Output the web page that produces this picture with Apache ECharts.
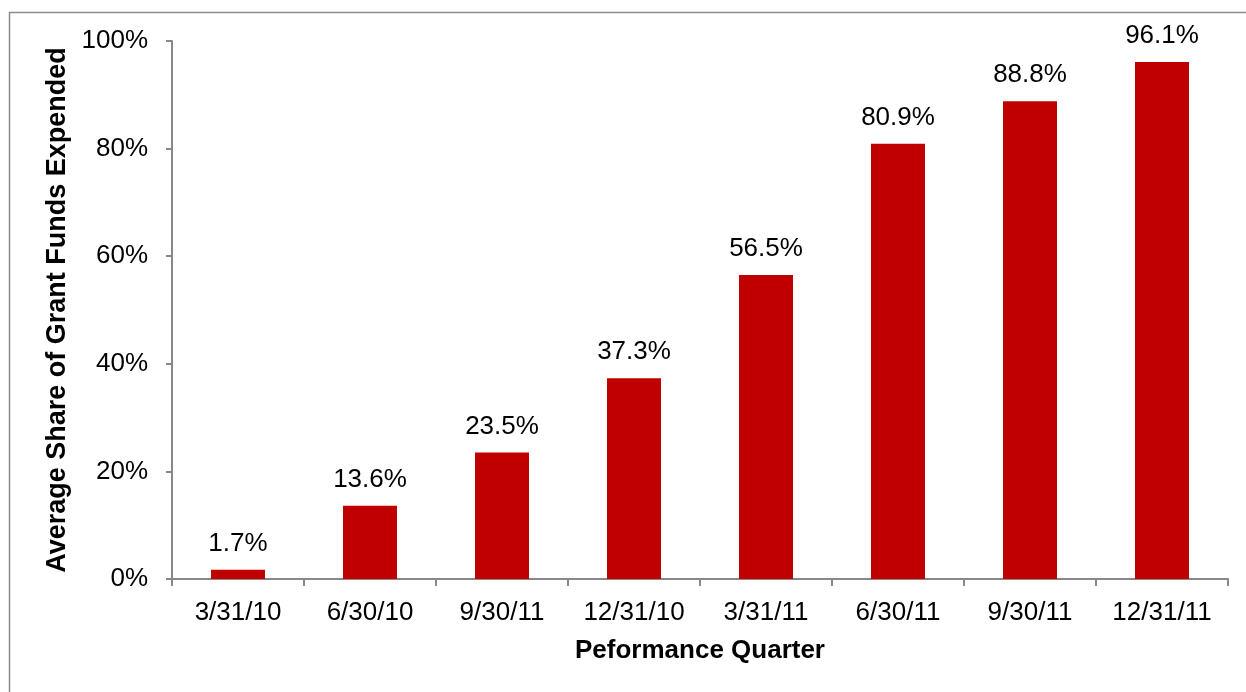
<!DOCTYPE html>
<html>
<head>
<meta charset="utf-8">
<script src="https://cdn.jsdelivr.net/npm/echarts@6/dist/echarts.min.js"></script>
<style>
  html, body { margin: 0; padding: 0; background: #fff; }
  #chart { width: 1246px; height: 692px; }
</style>
</head>
<body>
<div id="chart"></div>
<script>
// performance quarters (labels as printed)
const quarters = ['3/31/10', '6/30/10', '9/30/11', '12/31/10', '3/31/11', '6/30/11', '9/30/11', '12/31/11'];
// average share of grant funds expended, percent
const shareExpended = [1.7, 13.6, 23.5, 37.3, 56.5, 80.9, 88.8, 96.1];
const yTicks = [0, 20, 40, 60, 80, 100];

const font = 'Liberation Sans, Arial, sans-serif';
const chart = echarts.init(document.getElementById('chart'));

chart.setOption({
  animation: false,
  textStyle: { fontFamily: font },
  graphic: [{
    type: 'rect',
    shape: { x: 9.5, y: 12.5, width: 1300, height: 720 },
    style: { fill: null, stroke: '#8c8c8c', lineWidth: 1.5 },
    silent: true
  }],
  grid: { left: 172, right: 18, top: 41, bottom: 113 },
  xAxis: {
    type: 'category',
    data: quarters,
    name: 'Peformance Quarter',
    nameLocation: 'middle',
    nameGap: 59,
    nameTextStyle: { fontSize: 26, fontWeight: 'bold', color: '#000', fontFamily: font },
    axisLine: { lineStyle: { color: '#888', width: 2 } },
    axisTick: { show: true, length: 7, lineStyle: { color: '#888', width: 2 } },
    axisLabel: { fontSize: 26, color: '#000', margin: 21, fontFamily: font }
  },
  yAxis: {
    type: 'value',
    min: yTicks[0],
    max: yTicks[yTicks.length - 1],
    interval: yTicks[1] - yTicks[0],
    name: 'Average Share of Grant Funds Expended',
    nameLocation: 'middle',
    nameGap: 99,
    nameTextStyle: { fontSize: 27, fontWeight: 'bold', color: '#000', fontFamily: font },
    axisLine: { show: true, lineStyle: { color: '#888', width: 2 } },
    axisTick: { show: true, length: 6, lineStyle: { color: '#888', width: 2 } },
    splitLine: { show: false },
    axisLabel: { fontSize: 26, color: '#000', margin: 24, formatter: '{value}%', fontFamily: font }
  },
  series: [{
    type: 'bar',
    data: shareExpended,
    barWidth: 54,
    itemStyle: { color: '#C00000' },
    label: {
      show: true,
      position: 'top',
      distance: 13,
      fontSize: 26,
      color: '#000',
      fontFamily: font,
      formatter: p => p.value.toFixed(1) + '%'
    }
  }]
});
</script>
</body>
</html>
